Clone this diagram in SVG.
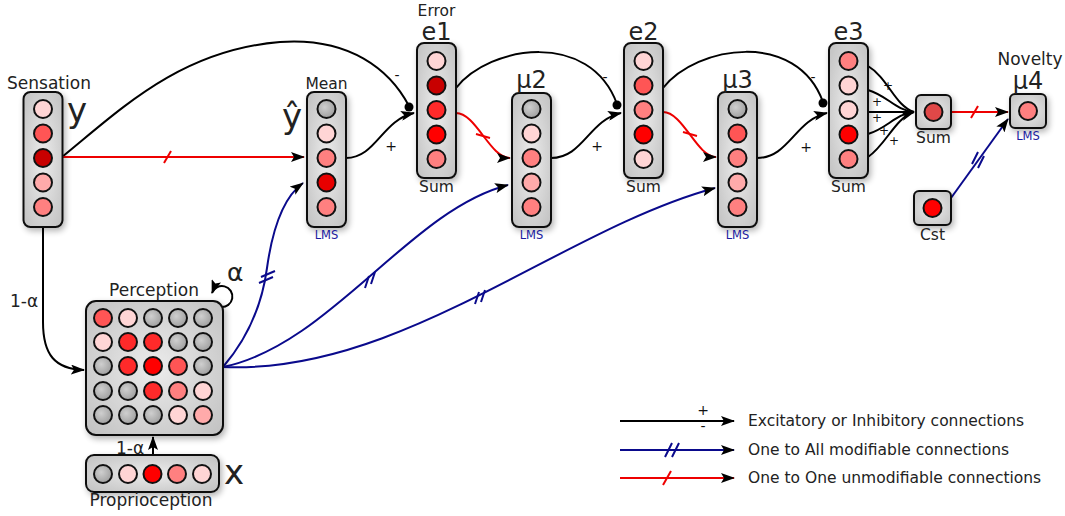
<svg xmlns="http://www.w3.org/2000/svg" width="1065" height="516" viewBox="0 0 1065 516">
<defs>
<radialGradient id="bg" cx="50%" cy="50%" r="65%">
<stop offset="0" stop-color="#ececec"/><stop offset="1" stop-color="#c4c4c4"/>
</radialGradient>
<radialGradient id="gg" cx="40%" cy="40%" r="70%">
<stop offset="0" stop-color="#cfcfcf"/><stop offset="1" stop-color="#9a9a9a"/>
</radialGradient>
<filter id="sh" x="-30%" y="-30%" width="160%" height="160%">
<feGaussianBlur in="SourceAlpha" stdDeviation="3"/>
<feOffset dx="2" dy="3"/>
<feComponentTransfer><feFuncA type="linear" slope="0.3"/></feComponentTransfer>
<feMerge><feMergeNode/><feMergeNode in="SourceGraphic"/></feMerge>
</filter>
<marker id="ar" viewBox="0 0 14 10" refX="13" refY="5" markerWidth="14" markerHeight="10" markerUnits="userSpaceOnUse" orient="auto">
<path d="M0,0 L14,5 L0,10 L3,5 z" fill="#000"/>
</marker>
<style>
.box{fill:url(#bg);stroke:#111;stroke-width:2}
circle.n{stroke:#111;stroke-width:2}
.g{fill:url(#gg)}
.c1{fill:#ffd5d5}.c2{fill:#ffaaaa}.c3{fill:#ff8080}.c4{fill:#ff5555}
.c5{fill:#ff2a2a}.c6{fill:#f00}.c7{fill:#c80000}.c8{fill:#e04848}
.k{fill:none;stroke:#000;stroke-width:2}
.r{fill:none;stroke:#e00;stroke-width:2}
.b{fill:none;stroke:#0a0a8c;stroke-width:2}
text{font-family:"DejaVu Sans","Liberation Sans",sans-serif;fill:#222}
.lb{font-size:17px}
.sm{font-size:15.5px}
.big{font-size:24px}
.var{font-size:34px}
.lms{font-size:11.5px;fill:#1a1aa0}
.pm{font-size:14px;fill:#111}
.ps{font-size:12px;fill:#111}
.lg{font-size:15.5px}
.al{font-size:17px}
</style>
</defs>

<g id="connectors">
<!-- black -->
<path class="k" d="M62,157 C120,110 180,50 280,42 C350,37 390,70 409,106"/>
<circle cx="409" cy="107" r="4.5" fill="#000"/>
<path class="k" d="M346,158 C376,158 382,120 414,113" marker-end="url(#ar)"/>
<path class="k" d="M456,88 C490,45 590,30 617,104"/>
<circle cx="617" cy="105" r="4.5" fill="#000"/>
<path class="k" d="M551,158 C583,158 589,120 621,113" marker-end="url(#ar)"/>
<path class="k" d="M663,88 C697,45 797,30 823,102"/>
<circle cx="823" cy="103" r="4.5" fill="#000"/>
<path class="k" d="M757,158 C789,158 795,120 827,113" marker-end="url(#ar)"/>
<path class="k" d="M868,66 C888,78 895,106 914,112"/>
<path class="k" d="M868,90 C888,96 895,110 914,112"/>
<path class="k" d="M868,112 L914,112"/>
<path class="k" d="M868,134 C888,128 895,114 914,112"/>
<path class="k" d="M868,157 C886,145 895,118 914,112" marker-end="url(#ar)"/>
<path class="k" d="M43,227 L43,322 C43,355 55,369 84,370" marker-end="url(#ar)"/>
<path class="k" d="M153,455 L153,437" marker-end="url(#ar)"/>
<path class="k" d="M221,307 A10.5,10.5 0 1 0 212,293" marker-end="url(#ar)"/>
<!-- red -->
<path class="r" d="M62,157 L304,157" marker-end="url(#ar)"/>
<path class="r" d="M164,163 L171,151"/>
<path class="r" d="M456,113 C476,113 490,158 510,158" marker-end="url(#ar)"/>
<path class="r" d="M476,134 L490,138"/>
<path class="r" d="M663,112 C683,112 697,157 716,157" marker-end="url(#ar)"/>
<path class="r" d="M683,132 L697,136"/>
<path class="r" d="M951,112 L1008,112" marker-end="url(#ar)"/>
<path class="r" d="M971,118 L978,106"/>
<!-- blue -->
<path class="b" d="M223,367 C248,338 262,305 267,268 C273,225 285,196 303,183" marker-end="url(#ar)"/>
<path class="b" d="M259,283 L273,277 M261,277 L275,271"/>
<path class="b" d="M223,367 C330,345 410,210 508,185" marker-end="url(#ar)"/>
<path class="b" d="M365,288 L369,276 M371,284 L375,272"/>
<path class="b" d="M223,367 C400,375 560,230 715,188" marker-end="url(#ar)"/>
<path class="b" d="M475,304 L479,292 M481,302 L485,290"/>
<path class="b" d="M951,198 L1008,119" marker-end="url(#ar)"/>
<path class="b" d="M972,164 L978,152 M978,168 L984,156"/>
<!-- signs -->
<text class="pm" x="397" y="80" text-anchor="middle">-</text>
<text class="pm" x="391" y="151" text-anchor="middle">+</text>
<text class="pm" x="605" y="82" text-anchor="middle">-</text>
<text class="pm" x="597" y="151" text-anchor="middle">+</text>
<text class="pm" x="813" y="82" text-anchor="middle">-</text>
<text class="pm" x="806" y="152" text-anchor="middle">+</text>
<text class="ps" x="888" y="90" text-anchor="middle">+</text>
<text class="ps" x="877" y="106" text-anchor="middle">+</text>
<text class="ps" x="877" y="122" text-anchor="middle">+</text>
<text class="ps" x="884" y="135" text-anchor="middle">+</text>
<text class="ps" x="894" y="145" text-anchor="middle">+</text>
</g>

<g id="sensation">
<rect class="box" x="23.5" y="92" width="39" height="135" rx="7" filter="url(#sh)"/>
<circle class="n c1" cx="43" cy="109" r="9"/>
<circle class="n c4" cx="43" cy="133.5" r="9"/>
<circle class="n c7" cx="43" cy="158" r="9"/>
<circle class="n c2" cx="43" cy="182.5" r="9"/>
<circle class="n c3" cx="43" cy="207" r="9"/>
<text class="lb" x="49" y="89" text-anchor="middle">Sensation</text>
<text class="var" x="67" y="122">y</text>
</g>

<g id="mean">
<rect class="box" x="307" y="92" width="39" height="135" rx="7" filter="url(#sh)"/>
<circle class="n g" cx="326.5" cy="109" r="9"/>
<circle class="n c1" cx="326.5" cy="133.5" r="9"/>
<circle class="n c3" cx="326.5" cy="158" r="9"/>
<circle class="n" style="fill:#e80000" cx="326.5" cy="182.5" r="9"/>
<circle class="n c3" cx="326.5" cy="207" r="9"/>
<text class="sm" x="326.5" y="89" text-anchor="middle">Mean</text>
<text class="var" x="282" y="128">ŷ</text>
<text class="lms" x="326.5" y="239" text-anchor="middle">LMS</text>
</g>

<g id="e1">
<rect class="box" x="417" y="43" width="39" height="135" rx="7" filter="url(#sh)"/>
<circle class="n c1" cx="436.5" cy="61" r="9"/>
<circle class="n c7" cx="436.5" cy="85.5" r="9"/>
<circle class="n c5" cx="436.5" cy="110" r="9"/>
<circle class="n c6" cx="436.5" cy="134.5" r="9"/>
<circle class="n c3" cx="436.5" cy="159" r="9"/>
<text class="sm" x="436.5" y="16" text-anchor="middle">Error</text>
<text class="big" x="436.5" y="40" text-anchor="middle">e1</text>
<text class="sm" x="436.5" y="192" text-anchor="middle">Sum</text>
</g>

<g id="mu2">
<rect class="box" x="512" y="93" width="39" height="134" rx="7" filter="url(#sh)"/>
<circle class="n g" cx="531.5" cy="109" r="9"/>
<circle class="n c1" cx="531.5" cy="133.5" r="9"/>
<circle class="n c3" cx="531.5" cy="158" r="9"/>
<circle class="n c2" cx="531.5" cy="182.5" r="9"/>
<circle class="n c3" cx="531.5" cy="207" r="9"/>
<text class="big" x="531.5" y="88" text-anchor="middle">μ2</text>
<text class="lms" x="531.5" y="239" text-anchor="middle">LMS</text>
</g>

<g id="e2">
<rect class="box" x="624" y="43" width="39" height="135" rx="7" filter="url(#sh)"/>
<circle class="n c1" cx="643.5" cy="61" r="9"/>
<circle class="n c4" cx="643.5" cy="85.5" r="9"/>
<circle class="n c3" cx="643.5" cy="110" r="9"/>
<circle class="n c6" cx="643.5" cy="134.5" r="9"/>
<circle class="n c1" cx="643.5" cy="159" r="9"/>
<text class="big" x="643.5" y="40" text-anchor="middle">e2</text>
<text class="sm" x="643.5" y="192" text-anchor="middle">Sum</text>
</g>

<g id="mu3">
<rect class="box" x="718" y="92" width="39" height="135" rx="7" filter="url(#sh)"/>
<circle class="n g" cx="737.5" cy="109" r="9"/>
<circle class="n c4" cx="737.5" cy="133.5" r="9"/>
<circle class="n c3" cx="737.5" cy="158" r="9"/>
<circle class="n c2" cx="737.5" cy="182.5" r="9"/>
<circle class="n c3" cx="737.5" cy="207" r="9"/>
<text class="big" x="737.5" y="88" text-anchor="middle">μ3</text>
<text class="lms" x="737.5" y="239" text-anchor="middle">LMS</text>
</g>

<g id="e3">
<rect class="box" x="829" y="43" width="39" height="135" rx="7" filter="url(#sh)"/>
<circle class="n c3" cx="848.5" cy="61" r="9"/>
<circle class="n c1" cx="848.5" cy="85.5" r="9"/>
<circle class="n c1" cx="848.5" cy="110" r="9"/>
<circle class="n c6" cx="848.5" cy="134.5" r="9"/>
<circle class="n c3" cx="848.5" cy="159" r="9"/>
<text class="big" x="848.5" y="40" text-anchor="middle">e3</text>
<text class="sm" x="848.5" y="192" text-anchor="middle">Sum</text>
</g>

<g id="sum">
<rect class="box" x="916" y="95" width="35" height="34" rx="5" filter="url(#sh)"/>
<circle class="n c8" cx="933.5" cy="112" r="9"/>
<text class="sm" x="933.5" y="143" text-anchor="middle">Sum</text>
</g>

<g id="novelty">
<rect class="box" x="1010" y="94" width="36" height="34" rx="5" filter="url(#sh)"/>
<circle class="n c3" cx="1028" cy="111" r="9"/>
<text class="lb" x="1030" y="65" text-anchor="middle">Novelty</text>
<text class="big" x="1028" y="89" text-anchor="middle">μ4</text>
<text class="lms" x="1028" y="140" text-anchor="middle">LMS</text>
</g>

<g id="cst">
<rect class="box" x="914" y="191" width="37" height="34" rx="5" filter="url(#sh)"/>
<circle class="n c6" cx="932.5" cy="208" r="9"/>
<text class="sm" x="932.5" y="240" text-anchor="middle">Cst</text>
</g>

<g id="perception">
<rect class="box" x="86" y="301" width="137" height="134" rx="10" filter="url(#sh)"/>
<circle class="n c4" cx="103" cy="318" r="9"/>
<circle class="n c1" cx="128" cy="318" r="9"/>
<circle class="n g" cx="153" cy="318" r="9"/>
<circle class="n g" cx="178" cy="318" r="9"/>
<circle class="n g" cx="203" cy="318" r="9"/>
<circle class="n c1" cx="103" cy="342" r="9"/>
<circle class="n c5" cx="128" cy="342" r="9"/>
<circle class="n c5" cx="153" cy="342" r="9"/>
<circle class="n g" cx="178" cy="342" r="9"/>
<circle class="n g" cx="203" cy="342" r="9"/>
<circle class="n g" cx="103" cy="366" r="9"/>
<circle class="n c5" cx="128" cy="366" r="9"/>
<circle class="n c6" cx="153" cy="366" r="9"/>
<circle class="n c4" cx="178" cy="366" r="9"/>
<circle class="n g" cx="203" cy="366" r="9"/>
<circle class="n g" cx="103" cy="391" r="9"/>
<circle class="n g" cx="128" cy="391" r="9"/>
<circle class="n c5" cx="153" cy="391" r="9"/>
<circle class="n c3" cx="178" cy="391" r="9"/>
<circle class="n c1" cx="203" cy="391" r="9"/>
<circle class="n g" cx="103" cy="415" r="9"/>
<circle class="n g" cx="128" cy="415" r="9"/>
<circle class="n g" cx="153" cy="415" r="9"/>
<circle class="n c1" cx="178" cy="415" r="9"/>
<circle class="n c2" cx="203" cy="415" r="9"/>
<text class="lb" x="154" y="296" text-anchor="middle">Perception</text>
<text x="227" y="281" style="font-size:25px">α</text>
<text class="al" x="10" y="307">1-α</text>
<text class="al" x="116" y="454">1-α</text>
</g>

<g id="proprioception">
<rect class="box" x="86" y="455" width="133" height="37" rx="8" filter="url(#sh)"/>
<circle class="n g" cx="103" cy="474" r="9"/>
<circle class="n c1" cx="128" cy="474" r="9"/>
<circle class="n c6" cx="152.5" cy="474" r="9"/>
<circle class="n c3" cx="177" cy="474" r="9"/>
<circle class="n c1" cx="202" cy="474" r="9"/>
<text class="var" x="224" y="484">x</text>
<text class="lb" x="151" y="506" text-anchor="middle">Proprioception</text>
</g>

<g id="legend">
<path class="k" d="M620,421 L734,421" marker-end="url(#ar)"/>
<text class="pm" x="703" y="415" text-anchor="middle">+</text>
<text class="pm" x="703" y="431" text-anchor="middle">-</text>
<text class="lg" x="748" y="426">Excitatory or Inhibitory connections</text>
<path class="b" d="M620,450 L734,450" marker-end="url(#ar)"/>
<path class="b" d="M665,457 L672,443 M672,457 L679,443"/>
<text class="lg" x="748" y="455">One to All modifiable connections</text>
<path class="r" d="M620,478 L734,478" marker-end="url(#ar)"/>
<path class="r" d="M663,485 L671,471"/>
<text class="lg" x="748" y="483">One to One unmodifiable connections</text>
</g>
</svg>
